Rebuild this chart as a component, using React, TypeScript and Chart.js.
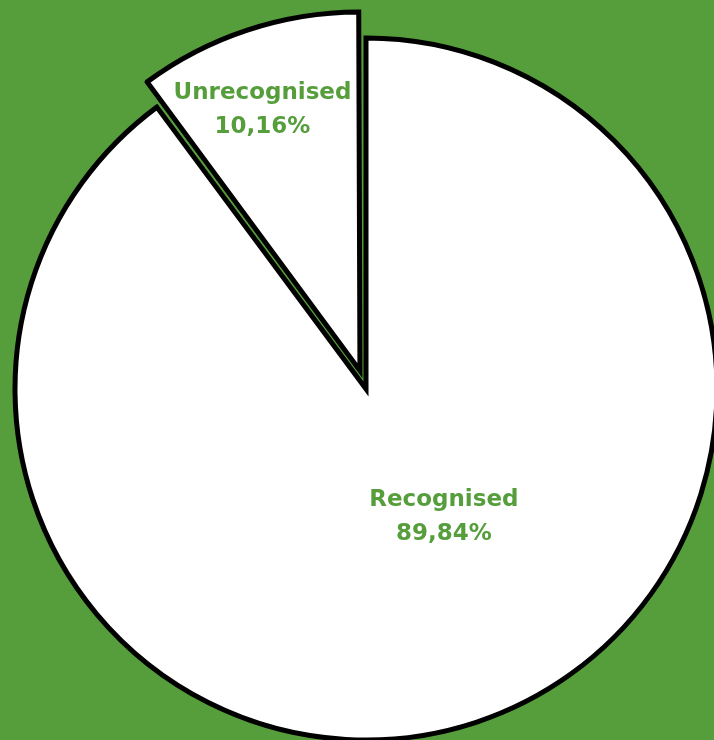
import React, { useEffect, useRef } from "react";
import { Chart, registerables } from "chart.js";

Chart.register(...registerables);

const categories: string[] = ["Recognised", "Unrecognised"];
const values: number[] = [89.84, 10.16];
const valueLabels: string[] = ["89,84%", "10,16%"];

const GREEN = "#559e3b";

// label placement (fraction of radius, angle shift in degrees from slice mid-angle)
const LABEL_R = [0.427, 0.77];
const LABEL_SHIFT = [-13.0, -2.3];

const labelPlugin = {
  id: "sliceLabels",
  afterDatasetsDraw(chart: any) {
    const ctx = chart.ctx;
    const meta = chart.getDatasetMeta(0);
    meta.data.forEach((arc: any, i: number) => {
      const { x, y, startAngle, endAngle, outerRadius } = arc.getProps(
        ["x", "y", "startAngle", "endAngle", "outerRadius"],
        true
      );
      const mid = (startAngle + endAngle) / 2;
      const offOpt = arc.options.offset || 0;
      const circ = endAngle - startAngle;
      const fix = 1 - Math.sin(Math.min(Math.PI, circ));
      const off = (offOpt / 4) * (1 + fix);
      const cx = x + Math.cos(mid) * off;
      const cy = y + Math.sin(mid) * off;
      const a = mid + (LABEL_SHIFT[i] * Math.PI) / 180;
      const lx = cx + Math.cos(a) * outerRadius * LABEL_R[i];
      const ly = cy + Math.sin(a) * outerRadius * LABEL_R[i];
      ctx.save();
      ctx.fillStyle = GREEN;
      ctx.font = "bold 23px 'DejaVu Sans'";
      ctx.textAlign = "center";
      ctx.textBaseline = "middle";
      ctx.fillText(categories[i], lx, ly - 17);
      ctx.fillText(valueLabels[i], lx, ly + 17);
      ctx.restore();
    });
  },
};

export default function App() {
  const ref = useRef<HTMLCanvasElement>(null);
  useEffect(() => {
    if (!ref.current) return;
    const chart = new Chart(ref.current, {
      type: "pie",
      data: {
        labels: categories,
        datasets: [
          {
            data: values,
            backgroundColor: ["#ffffff", "#ffffff"],
            borderColor: "#000000",
            borderWidth: 5,
            borderJoinStyle: "miter",
            offset: [0, 77],
            clip: false,
          } as any,
        ],
      },
      options: {
        animation: false,
        responsive: false,
        maintainAspectRatio: false,
        radius: 351,
        layout: { padding: { left: 18, top: 38, right: 0, bottom: 0 } },
        plugins: {
          legend: { display: false },
          tooltip: { enabled: false },
        },
      } as any,
      plugins: [labelPlugin],
    });
    return () => chart.destroy();
  }, []);
  return (
    <div
      style={{
        position: "fixed",
        left: 0,
        top: 0,
        width: 714,
        height: 740,
        overflow: "hidden",
        background: GREEN,
      }}
    >
      <canvas ref={ref} width={714} height={740} style={{ display: "block" }} />
    </div>
  );
}
